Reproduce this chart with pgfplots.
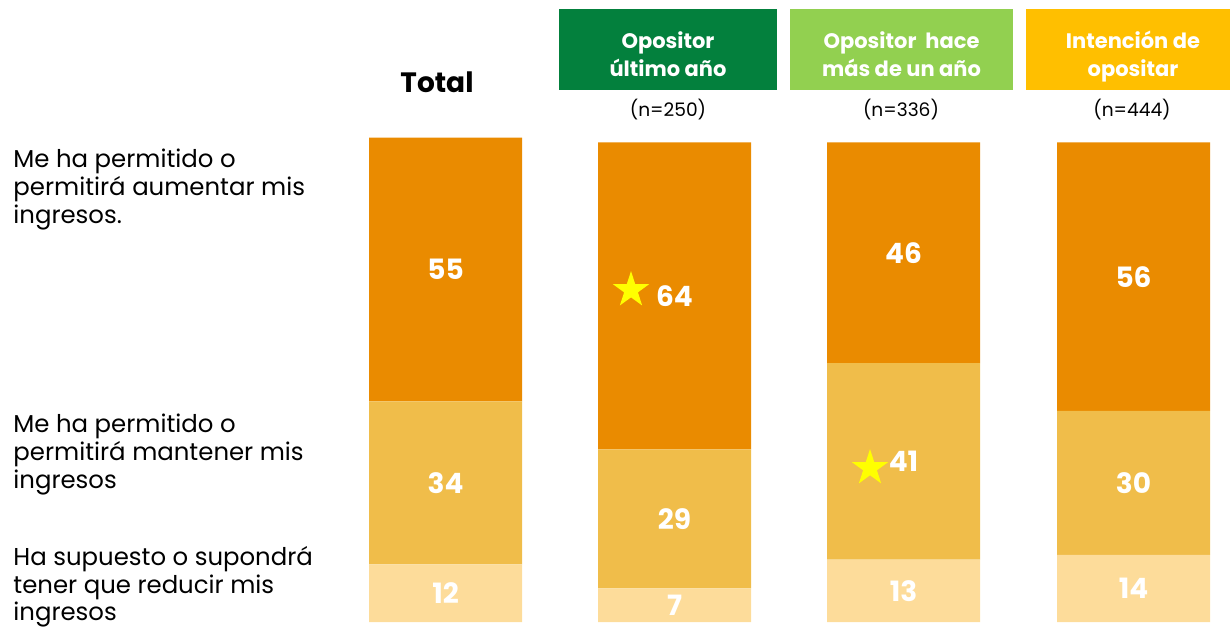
\documentclass[border=0pt]{standalone}
\usepackage{pgfplots}
\pgfplotsset{compat=1.18}
\usepackage{fontspec}
\setmainfont{Poppins}

\definecolor{topc}{HTML}{EA8B00}
\definecolor{midc}{HTML}{F0BD4A}
\definecolor{lowc}{HTML}{FDDC9A}
\definecolor{hgreen}{HTML}{03803D}
\definecolor{hlgreen}{HTML}{92D050}
\definecolor{hyellow}{HTML}{FFBF00}
\definecolor{staryel}{HTML}{FFFF00}

% filled five point star
\pgfdeclareplotmark{fstar}{%
  \pgfpathmoveto{\pgfpointpolar{90}{\pgfplotmarksize}}%
  \pgfpathlineto{\pgfpointpolar{126}{0.382\pgfplotmarksize}}%
  \pgfpathlineto{\pgfpointpolar{162}{\pgfplotmarksize}}%
  \pgfpathlineto{\pgfpointpolar{198}{0.382\pgfplotmarksize}}%
  \pgfpathlineto{\pgfpointpolar{234}{\pgfplotmarksize}}%
  \pgfpathlineto{\pgfpointpolar{270}{0.382\pgfplotmarksize}}%
  \pgfpathlineto{\pgfpointpolar{306}{\pgfplotmarksize}}%
  \pgfpathlineto{\pgfpointpolar{342}{0.382\pgfplotmarksize}}%
  \pgfpathlineto{\pgfpointpolar{18}{\pgfplotmarksize}}%
  \pgfpathlineto{\pgfpointpolar{54}{0.382\pgfplotmarksize}}%
  \pgfpathclose\pgfusepathqfill}

\pgfplotsset{
  base/.style={scale only axis, width=615pt, height=241pt,
    xmin=0, xmax=1230, ymin=0, ymax=100.5,
    axis lines=none, clip=false, at={(0pt,-311pt)}, anchor=south west},
}

\begin{document}
\begin{tikzpicture}
\path[use as bounding box] (0pt,0pt) rectangle (615pt,-313pt);

% stacked bars: reduce / keep / increase
\begin{axis}[base, ybar stacked, bar width=153]
\addplot[fill=lowc, draw=none] coordinates {(445.5,12) (674.5,7) (903.5,13) (1133.5,14)};
\addplot[fill=midc, draw=none] coordinates {(445.5,34) (674.5,29) (903.5,41) (1133.5,30)};
\addplot[fill=topc, draw=none] coordinates {(445.5,55) (674.5,64) (903.5,46) (1133.5,56)};
\end{axis}

% value labels and stars
\begin{axis}[base]
\addplot[draw=none, mark=none, nodes near coords, point meta=explicit symbolic,
  every node near coord/.append style={anchor=center, text=white,
    font=\fontsize{14}{14}\selectfont\bfseries}]
  coordinates {
    (445.5,6) [12] (445.5,29) [34] (445.5,73.5) [55]
    (674.5,3.5) [7] (674.5,21.5) [29] (674.5,68) [64]
    (903.5,6.5) [13] (903.5,33.5) [41] (903.5,77) [46]
    (1133.5,7) [14] (1133.5,29) [30] (1133.5,72) [56]
  };
\addplot[only marks, mark=fstar, mark size=9.5pt, fill=staryel, draw=none]
  coordinates {(631,69.2) (870,32.1)};
\end{axis}

\begin{scope}[x=0.5pt,y=-0.5pt]
  % left row labels
  \foreach \t/\yy in {Me ha permitido o/167, permitirá aumentar mis/195, ingresos./223,
      Me ha permitido o/432, permitirá mantener mis/460, ingresos/488,
      Ha supuesto o supondrá/565, tener que reducir mis/593, ingresos/620}
    \node[anchor=base west, inner sep=0, font=\fontsize{12.2}{14}\selectfont] at (13,\yy) {\t};

  % column headers
  \node[anchor=base, inner sep=0, font=\fontsize{14}{14}\selectfont\bfseries] at (437,93) {Total};
  \fill[hgreen] (559,9) rectangle (777,90);
  \fill[hlgreen] (790,9) rectangle (1013,90);
  \fill[hyellow] (1026,9) rectangle (1240,90);
  \begin{scope}[every node/.style={anchor=base, inner sep=0, text=white,
      font=\fontsize{10.5}{11}\selectfont\bfseries}]
    \node at (668,49) {Opositor};
    \node at (668,76) {último año};
    \node at (901.5,49) {Opositor~ hace};
    \node at (901.5,76) {más de un año};
    \node at (1133,49) {Intención de};
    \node at (1133,76) {opositar};
  \end{scope}
  \begin{scope}[every node/.style={anchor=base, inner sep=0,
      font=\fontsize{9.3}{10}\selectfont}]
    \node at (668,117) {(n=250)};
    \node at (901,117) {(n=336)};
    \node at (1132,117) {(n=444)};
  \end{scope}
\end{scope}
\end{tikzpicture}
\end{document}
